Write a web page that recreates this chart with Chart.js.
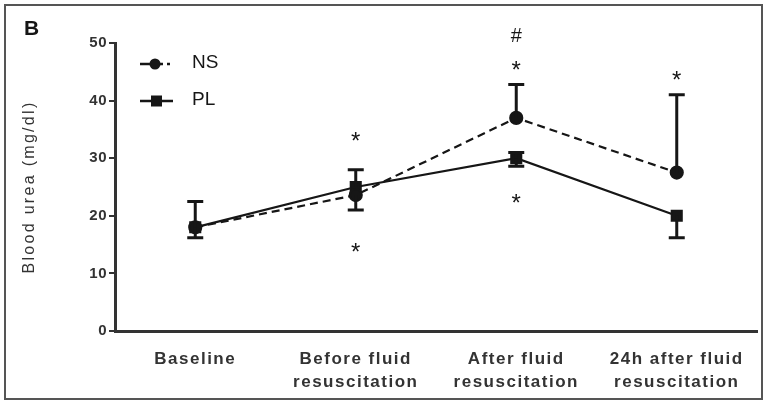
<!DOCTYPE html>
<html>
<head>
<meta charset="utf-8">
<script src="https://cdn.jsdelivr.net/npm/chart.js@4/dist/chart.umd.min.js"></script>
<style>
  html, body { margin: 0; padding: 0; background: #fff; }
  #wrap { position: relative; width: 767px; height: 404px; }
</style>
</head>
<body>
<div id="wrap"><canvas id="c" width="767" height="404"></canvas></div>
<script>
// Time points
const categories = [
  'Baseline',
  ['Before fluid', 'resuscitation'],
  ['After fluid', 'resuscitation'],
  ['24h after fluid', 'resuscitation']
];

// Mean blood urea (mg/dl)
const nsValues = [18, 23.6, 37, 27.5];
const plValues = [18, 25, 30, 20];

// Error bar extents (mg/dl); null where no whisker is drawn on that side
const nsErrLow  = [null, 21, null, null];
const nsErrHigh = [22.5, null, 42.8, 41];
const plErrLow  = [16.2, null, 28.6, 16.2];
const plErrHigh = [null, 28, 31, null];

// Significance markers: category index, level in mg/dl, symbol
const marks = [
  { cat: 1, level: 33.6, text: '*' },
  { cat: 1, level: 14.4, text: '*' },
  { cat: 2, level: 51.2, text: '#' },
  { cat: 2, level: 46, text: '*' },
  { cat: 2, level: 22.8, text: '*' },
  { cat: 3, level: 44.2, text: '*' }
];

const yTicks = [0, 10, 20, 30, 40, 50];

const ink = '#161616';
const FONT = '"Liberation Sans", Arial, sans-serif';

// Draw a scale's labels and title with extra tracking
function tracked(labelSpacing, titleSpacing) {
  return function (s) {
    if (s._tracked) return;
    s._tracked = true;
    const drawLabels = s.drawLabels.bind(s);
    const drawTitle = s.drawTitle.bind(s);
    s.drawLabels = function (area) {
      const ctx = this.ctx;
      const prev = ctx.letterSpacing;
      ctx.letterSpacing = labelSpacing;
      drawLabels(area);
      ctx.letterSpacing = prev;
    };
    s.drawTitle = function (area) {
      const ctx = this.ctx;
      const prev = ctx.letterSpacing;
      ctx.letterSpacing = titleSpacing;
      drawTitle(area);
      ctx.letterSpacing = prev;
    };
  };
}

const errorBars = {
  id: 'errorBars',
  afterDatasetsDraw(chart) {
    const { ctx } = chart;
    const y = chart.scales.y;
    const sets = [[nsErrLow, nsErrHigh, 0], [plErrLow, plErrHigh, 1]];
    ctx.save();
    ctx.strokeStyle = ink;
    ctx.lineWidth = 3;
    sets.forEach(([lo, hi, di]) => {
      const meta = chart.getDatasetMeta(di);
      meta.data.forEach((pt, i) => {
        const x = pt.x;
        [lo[i], hi[i]].forEach(v => {
          if (v === null) return;
          const ye = y.getPixelForValue(v);
          ctx.beginPath();
          ctx.moveTo(x, pt.y);
          ctx.lineTo(x, ye);
          ctx.moveTo(x - 8, ye);
          ctx.lineTo(x + 8, ye);
          ctx.stroke();
        });
      });
    });
    ctx.restore();
  }
};

const extras = {
  id: 'extras',
  beforeDraw(chart) {
    const { ctx } = chart;
    ctx.save();
    ctx.fillStyle = '#fff';
    ctx.fillRect(0, 0, chart.width, chart.height);
    ctx.strokeStyle = '#555';
    ctx.lineWidth = 2;
    ctx.strokeRect(5, 5, 757, 394);
    ctx.restore();
  },
  afterDraw(chart) {
    const { ctx } = chart;
    const x = chart.scales.x, y = chart.scales.y;
    ctx.save();
    // Panel letter
    ctx.fillStyle = ink;
    ctx.font = 'bold 21px ' + FONT;
    ctx.textBaseline = 'middle';
    ctx.textAlign = 'left';
    ctx.fillText('B', 24, 29);

    // Significance symbols
    ctx.textAlign = 'center';
    marks.forEach(m => {
      const px = x.getPixelForValue(m.cat);
      const py = y.getPixelForValue(m.level);
      ctx.font = (m.text === '#' ? '20px ' : '24px ') + FONT;
      ctx.fillText(m.text, px, m.text === '*' ? py + 5 : py);
    });

    // Legend
    ctx.lineWidth = 2.5;
    ctx.strokeStyle = ink;
    // NS
    ctx.beginPath();
    ctx.moveTo(140, 64); ctx.lineTo(155, 64); ctx.stroke();
    ctx.setLineDash([3, 4]);
    ctx.beginPath();
    ctx.moveTo(160, 64); ctx.lineTo(171, 64); ctx.stroke();
    ctx.setLineDash([]);
    ctx.beginPath(); ctx.arc(155, 64, 5.5, 0, Math.PI * 2); ctx.fill();
    // PL
    ctx.beginPath();
    ctx.moveTo(140, 101); ctx.lineTo(173, 101); ctx.stroke();
    ctx.fillRect(151, 95.5, 11, 11);
    ctx.font = '19px ' + FONT;
    ctx.textAlign = 'left';
    ctx.fillText('NS', 192, 63);
    ctx.fillText('PL', 192, 100);
    ctx.restore();
  }
};

new Chart(document.getElementById('c'), {
  type: 'line',
  data: {
    labels: categories,
    datasets: [
      {
        label: 'NS',
        data: nsValues,
        borderColor: ink,
        backgroundColor: ink,
        borderWidth: 2.2,
        borderDash: [8, 5],
        pointStyle: 'circle',
        pointRadius: 6,
        pointHoverRadius: 6,
        tension: 0
      },
      {
        label: 'PL',
        data: plValues,
        borderColor: ink,
        backgroundColor: ink,
        borderWidth: 2.2,
        pointStyle: 'rect',
        pointRadius: 7,
        pointHoverRadius: 7,
        tension: 0
      }
    ]
  },
  options: {
    responsive: false,
    animation: false,
    events: [],
    layout: { padding: { left: 0, right: 10, top: 43, bottom: 0 } },
    plugins: { legend: { display: false }, tooltip: { enabled: false } },
    scales: {
      x: {
        offset: true,
        grid: { display: false },
        border: { display: true, color: '#333', width: 3 },
        ticks: {
          color: '#333',
          font: { family: FONT, size: 17, weight: 'bold', lineHeight: 1.35 },
          maxRotation: 0,
          autoSkip: false,
          padding: 9
        },
        afterFit(s) { s.height = 73; },
        afterUpdate: tracked('1.5px', '0px')
      },
      y: {
        min: 0,
        max: 50,
        afterBuildTicks(s) { s.ticks = yTicks.map(v => ({ value: v })); },
        grid: { drawOnChartArea: false, drawTicks: true, tickLength: 6, color: '#333', lineWidth: 2 },
        border: { display: true, color: '#333', width: 3 },
        ticks: {
          color: '#333',
          font: { family: FONT, size: 15, weight: 'bold' },
          padding: 2
        },
        title: {
          display: true,
          text: 'Blood urea (mg/dl)',
          color: '#333',
          font: { family: FONT, size: 16 },
          padding: { top: 20, bottom: 0 }
        },
        afterFit(s) { s.width = 115; },
        afterUpdate: tracked('0.5px', '2.3px')
      }
    }
  },
  plugins: [extras, errorBars]
});
</script>
</body>
</html>
